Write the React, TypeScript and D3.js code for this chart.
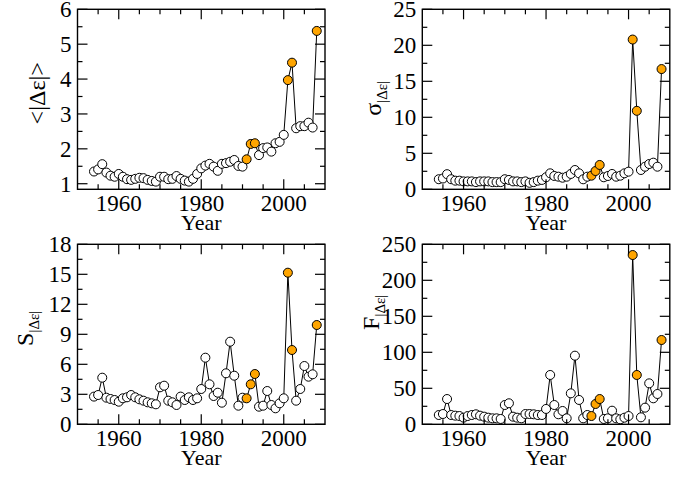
import * as d3 from "d3";

// years on the x axis
const years = [
  1954, 1955, 1956, 1957, 1958, 1959, 1960, 1961, 1962, 1963, 1964, 1965, 1966, 1967,
  1968, 1969, 1970, 1971, 1972, 1973, 1974, 1975, 1976, 1977, 1978, 1979, 1980, 1981,
  1982, 1983, 1984, 1985, 1986, 1987, 1988, 1989, 1990, 1991, 1992, 1993, 1994, 1995,
  1996, 1997, 1998, 1999, 2000, 2001, 2002, 2003, 2004, 2005, 2006, 2007, 2008,
];

// highlighted (orange) years
const highlightYears = [1991, 1992, 1993, 2001, 2002, 2008];

// <|Δε|>
const meanAbs = [
  1.35, 1.41, 1.56, 1.32, 1.23, 1.2, 1.28, 1.2, 1.13, 1.11, 1.14, 1.17, 1.16, 1.11,
  1.08, 1.06, 1.2, 1.2, 1.13, 1.14, 1.22, 1.14, 1.09, 1.06, 1.14, 1.28, 1.44, 1.52,
  1.57, 1.49, 1.37, 1.57, 1.59, 1.63, 1.68, 1.51, 1.49, 1.7, 2.14, 2.16, 1.82, 2.02,
  2.04, 1.92, 2.16, 2.2, 2.4, 3.97, 4.47, 2.59, 2.65, 2.65, 2.75, 2.61, 5.38,
];

// σ|Δε|
const sigma = [
  1.4, 1.5, 2.1, 1.4, 1.2, 1.2, 1.1, 1.1, 1.1, 1.0, 1.1, 1.1, 1.1, 1.0,
  1.0, 1.0, 1.4, 1.3, 1.1, 1.1, 1.0, 1.1, 0.9, 1.0, 1.2, 1.3, 1.67, 2.22,
  1.85, 1.75, 1.61, 1.75, 2.13, 2.68, 2.22, 1.39, 1.75, 1.89, 2.54, 3.38, 1.67, 1.85,
  2.13, 1.75, 1.89, 2.22, 2.45, 20.8, 10.9, 2.68, 3.14, 3.51, 3.7, 3.14, 16.7,
];

// S|Δε|
const skew = [
  2.77, 2.93, 4.66, 2.66, 2.53, 2.43, 2.26, 2.6, 2.7, 2.93, 2.7, 2.5, 2.36, 2.2,
  2.1, 2.0, 3.7, 3.86, 2.36, 2.2, 1.93, 2.77, 2.43, 2.7, 2.43, 2.6, 3.53, 6.66,
  4.0, 2.83, 3.16, 2.16, 5.1, 8.26, 4.86, 1.86, 2.66, 2.6, 4.0, 5.03, 1.76, 1.86,
  3.33, 1.93, 1.6, 2.1, 2.6, 15.16, 7.43, 2.36, 3.53, 5.83, 4.76, 5.0, 9.93,
];

// F|Δε|
const flat = [
  12.9, 14.3, 35.1, 12.9, 12.0, 11.5, 9.2, 11.5, 12.9, 13.9, 12.0, 10.6, 9.2, 8.3,
  8.3, 7.4, 26.8, 29.2, 10.6, 9.2, 8.3, 14.3, 14.3, 13.9, 12.9, 12.9, 21.3, 68.5,
  26.8, 13.9, 18.5, 8.3, 43.0, 95.3, 33.8, 8.3, 12.9, 11.5, 28.2, 35.1, 7.4, 8.3,
  18.9, 8.3, 6.9, 9.2, 11.5, 235.1, 68.5, 9.7, 23.1, 56.9, 36.1, 42.1, 117.1,
];

// tick values
const xMajor = [1960, 1980, 2000];
const xMinor = [1955, 1965, 1970, 1975, 1985, 1990, 1995, 2005];

const W = 247.5;
const H = 180;
const FONT = "'Liberation Serif', 'Times New Roman', serif";

function Panel(props: any) {
  const { left, top, values, yDomain, yMajor, yMinor, label, labelX, labelY } = props;

  const x = d3.scaleLinear().domain([1950, 2010]).range([0, W]);
  const y = d3.scaleLinear().domain(yDomain).range([H, 0]);

  const line = d3
    .line<number>()
    .x((d, i) => x(years[i]))
    .y((d) => y(d));

  const major = 10;
  const minor = 5;

  return (
    <g transform={`translate(${left},${top})`}>
      <path d={line(values) || ""} fill="none" stroke="#000" strokeWidth={1} />
      {values.map((v: number, i: number) => (
        <circle
          key={i}
          cx={x(years[i])}
          cy={y(v)}
          r={4.5}
          fill={highlightYears.includes(years[i]) ? "#FFA500" : "#fff"}
          stroke="#000"
          strokeWidth={1}
        />
      ))}

      {/* x ticks, inward on bottom and top */}
      {xMajor.concat(xMinor).map((t) => {
        const len = xMajor.includes(t) ? major : minor;
        return (
          <g key={"x" + t}>
            <line x1={x(t)} x2={x(t)} y1={H} y2={H - len} stroke="#000" strokeWidth={1.2} />
            <line x1={x(t)} x2={x(t)} y1={0} y2={len} stroke="#000" strokeWidth={1.2} />
          </g>
        );
      })}
      {xMajor.map((t) => (
        <text key={"xl" + t} x={x(t)} y={H + 21.5} textAnchor="middle" fontSize={23} fontFamily={FONT}>
          {t}
        </text>
      ))}

      {/* y ticks, inward on left and right */}
      {yMajor.concat(yMinor).map((t: number) => {
        const len = yMajor.includes(t) ? major : minor;
        return (
          <g key={"y" + t}>
            <line x1={0} x2={len} y1={y(t)} y2={y(t)} stroke="#000" strokeWidth={1.2} />
            <line x1={W} x2={W - len} y1={y(t)} y2={y(t)} stroke="#000" strokeWidth={1.2} />
          </g>
        );
      })}
      {yMajor.map((t: number) => (
        <text
          key={"yl" + t}
          x={-6}
          y={y(t)}
          dy="0.35em"
          textAnchor="end"
          fontSize={23}
          fontFamily={FONT}
        >
          {t}
        </text>
      ))}

      <rect x={0} y={0} width={W} height={H} fill="none" stroke="#000" strokeWidth={1.4} />

      <text x={W / 2} y={H + 41} textAnchor="middle" fontSize={22} fontFamily={FONT}>
        Year
      </text>
      <text
        transform={`translate(${labelX},${labelY}) rotate(-90)`}
        textAnchor="middle"
        fontSize={24}
        fontFamily={FONT}
      >
        {label}
      </text>
    </g>
  );
}

export default function App() {
  const sub = (
    <tspan fontSize={15} dy={6}>
      |Δε|
    </tspan>
  );
  return (
    <svg
      width={690}
      height={478}
      style={{ position: "absolute", left: 0, top: 0, background: "#fff" }}
    >
      <Panel
        left={77.5}
        top={9.3}
        values={meanAbs}
        yDomain={[0.84, 6]}
        yMajor={[1, 2, 3, 4, 5, 6]}
        yMinor={[1.5, 2.5, 3.5, 4.5, 5.5]}
        label={"<|Δε|>"}
        labelX={-33}
        labelY={84}
      />
      <Panel
        left={422.3}
        top={9.3}
        values={sigma}
        yDomain={[0, 25]}
        yMajor={[0, 5, 10, 15, 20, 25]}
        yMinor={[2.5, 7.5, 12.5, 17.5, 22.5]}
        label={<>σ{sub}</>}
        labelX={-41}
        labelY={89}
      />
      <Panel
        left={77.5}
        top={244.3}
        values={skew}
        yDomain={[0, 18]}
        yMajor={[0, 3, 6, 9, 12, 15, 18]}
        yMinor={[1.5, 4.5, 7.5, 10.5, 13.5, 16.5]}
        label={<>S{sub}</>}
        labelX={-45}
        labelY={84}
      />
      <Panel
        left={422.3}
        top={244.3}
        values={flat}
        yDomain={[0, 250]}
        yMajor={[0, 50, 100, 150, 200, 250]}
        yMinor={[25, 75, 125, 175, 225]}
        label={<>F{sub}</>}
        labelX={-43}
        labelY={68}
      />
    </svg>
  );
}
